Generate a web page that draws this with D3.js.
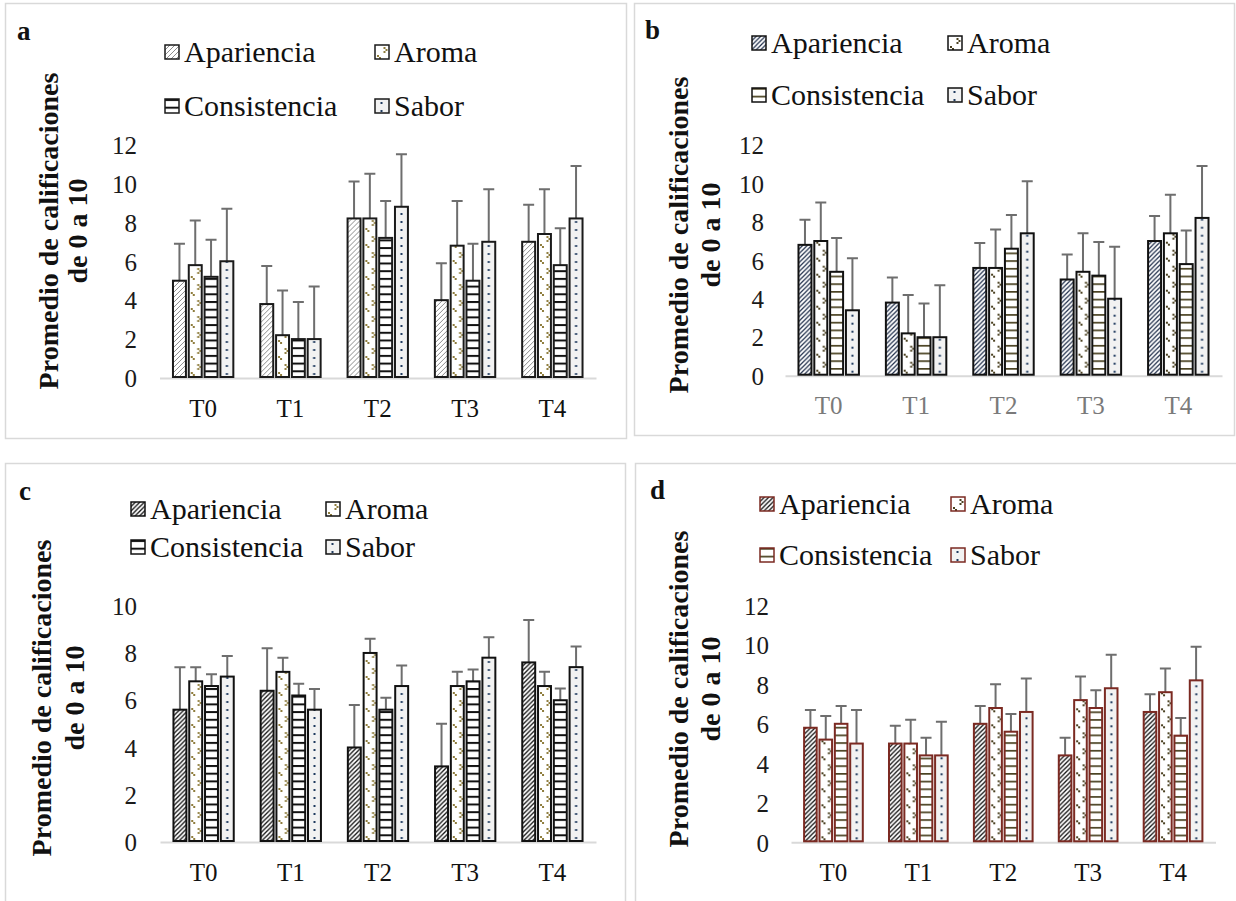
<!DOCTYPE html>
<html>
<head>
<meta charset="utf-8">
<script src="https://cdn.jsdelivr.net/npm/d3@7"></script>
<style>
  html, body { margin: 0; padding: 0; background: #fff; }
  svg { display: block; font-family: "Liberation Serif", "Times New Roman", serif; }
</style>
</head>
<body>
<svg id="chart" width="1236" height="901"></svg>
<script>
// ---------------- DATA ----------------
const categories = ["T0", "T1", "T2", "T3", "T4"];
const seriesNames = ["Apariencia", "Aroma", "Consistencia", "Sabor"];
const yTicks12 = [0, 2, 4, 6, 8, 10, 12];
const yTicks10 = [0, 2, 4, 6, 8, 10];
const yTitleLine1 = "Promedio de calificaciones";
const yTitleLine2 = "de 0 a 10";

// Panel a
const aApariencia   = [5.0, 3.8, 8.2, 4.0, 7.0];
const aAroma        = [5.8, 2.2, 8.2, 6.8, 7.4];
const aConsistencia = [5.2, 2.0, 7.2, 5.0, 5.8];
const aSabor        = [6.0, 2.0, 8.8, 7.0, 8.2];
const aErrApariencia   = [1.9, 1.95, 1.9, 1.9, 1.9];
const aErrAroma        = [2.3, 2.3, 2.3, 2.3, 2.3];
const aErrConsistencia = [1.9, 1.9, 1.9, 1.9, 1.9];
const aErrSabor        = [2.7, 2.7, 2.7, 2.7, 2.7];

// Panel b
const bApariencia   = [6.8, 3.8, 5.6, 5.0, 7.0];
const bAroma        = [7.0, 2.2, 5.6, 5.4, 7.4];
const bConsistencia = [5.4, 2.0, 6.6, 5.2, 5.8];
const bSabor        = [3.4, 2.0, 7.4, 4.0, 8.2];
const bErrApariencia   = [1.3, 1.3, 1.3, 1.3, 1.3];
const bErrAroma        = [2.0, 2.0, 2.0, 2.0, 2.0];
const bErrConsistencia = [1.75, 1.75, 1.75, 1.75, 1.75];
const bErrSabor        = [2.7, 2.7, 2.7, 2.7, 2.7];

// Panel c
const cApariencia   = [5.6, 6.4, 4.0, 3.2, 7.6];
const cAroma        = [6.8, 7.2, 8.0, 6.6, 6.6];
const cConsistencia = [6.6, 6.2, 5.6, 6.8, 6.0];
const cSabor        = [7.0, 5.6, 6.6, 7.8, 7.4];
const cErrApariencia   = [1.8, 1.8, 1.8, 1.8, 1.8];
const cErrAroma        = [0.6, 0.6, 0.6, 0.6, 0.6];
const cErrConsistencia = [0.5, 0.5, 0.5, 0.5, 0.5];
const cErrSabor        = [0.87, 0.87, 0.87, 0.87, 0.87];

// Panel d
const dApariencia   = [5.8, 5.0, 6.0, 4.4, 6.6];
const dAroma        = [5.2, 5.0, 6.8, 7.2, 7.6];
const dConsistencia = [6.0, 4.4, 5.6, 6.8, 5.4];
const dSabor        = [5.0, 4.4, 6.6, 7.8, 8.2];
const dErrApariencia   = [0.9, 0.9, 0.9, 0.9, 0.9];
const dErrAroma        = [1.2, 1.2, 1.2, 1.2, 1.2];
const dErrConsistencia = [0.9, 0.9, 0.9, 0.9, 0.9];
const dErrSabor        = [1.7, 1.7, 1.7, 1.7, 1.7];

// ---------------- LAYOUT / STYLE ----------------
const panels = [
  { id: "a", values: [aApariencia, aAroma, aConsistencia, aSabor],
    errs: [aErrApariencia, aErrAroma, aErrConsistencia, aErrSabor],
    ticks: yTicks12, box: [5, 3, 626, 438], letter: [17, 40],
    legendY: [52, 106], legendX: [165, 375],
    plotX: [159.5, 596], y0: 378, yTop: 144.5, tickRight: 137, catY: 417, catColor: "#111",
    title: { x1: 49, x2: 78, cy: 231 },
    sty: { stroke: "#1a1a1a", hatch: "#8c8c8c", hatchW: 1, hatchGap: 5, aroma: "#8e7c3c", cons: "#111", consW: 2, sabor: "#1f3a5f" } },
  { id: "b", values: [bApariencia, bAroma, bConsistencia, bSabor],
    errs: [bErrApariencia, bErrAroma, bErrConsistencia, bErrSabor],
    ticks: yTicks12, box: [634, 3, 1234, 435], letter: [645, 39],
    legendY: [43, 95], legendX: [752, 948],
    plotX: [785, 1222], y0: 375.7, yTop: 144.8, tickRight: 764, catY: 414, catColor: "#7a7a7a",
    title: { x1: 679, x2: 711, cy: 235 },
    sty: { stroke: "#111", hatch: "#1b2a47", hatchW: 1.2, hatchGap: 4.5, aroma: "#4a4020", cons: "#4a4222", consW: 1.7, sabor: "#1f3a5f" } },
  { id: "c", values: [cApariencia, cAroma, cConsistencia, cSabor],
    errs: [cErrApariencia, cErrAroma, cErrConsistencia, cErrSabor],
    ticks: yTicks10, box: [5, 463, 625, 910], letter: [19, 500],
    legendY: [509, 547], legendX: [131, 326],
    plotX: [160, 596], y0: 842, yTop: 605.7, tickRight: 137, catY: 881, catColor: "#111",
    title: { x1: 42, x2: 75, cy: 698 },
    sty: { stroke: "#111", hatch: "#111", hatchW: 1.3, hatchGap: 4.5, aroma: "#8e7c3c", cons: "#111", consW: 2, sabor: "#1f3a5f" } },
  { id: "d", values: [dApariencia, dAroma, dConsistencia, dSabor],
    errs: [dErrApariencia, dErrAroma, dErrConsistencia, dErrSabor],
    ticks: yTicks12, box: [635, 463, 1240, 910], letter: [650, 499],
    legendY: [504, 555], legendX: [760, 951],
    plotX: [791, 1215.5], y0: 842.3, yTop: 605.3, tickRight: 769, catY: 881, catColor: "#111",
    title: { x1: 679, x2: 711, cy: 689 },
    sty: { stroke: "#7b2a22", hatch: "#111", hatchW: 1.3, hatchGap: 4.5, aroma: "#4a4020", cons: "#4a4222", consW: 1.7, sabor: "#1f3a5f" } }
];

const svg = d3.select("#chart");
const defs = svg.append("defs");

// pattern builder; ox/oy anchor the pattern to the bar's origin
function makePattern(id, kind, sty, ox, oy) {
  if (kind === 0) { // Apariencia: diagonal hatch
    const g = sty.hatchGap;
    const p = defs.append("pattern").attr("id", id).attr("patternUnits", "userSpaceOnUse")
      .attr("x", ox).attr("y", oy).attr("width", g).attr("height", g);
    p.append("rect").attr("width", g).attr("height", g).attr("fill", "#fff");
    p.append("path").attr("d", `M0,${g} L${g},0 M${-g/2},${g/2} L${g/2},${-g/2} M${g/2},${g*1.5} L${g*1.5},${g/2}`)
      .attr("stroke", sty.hatch).attr("stroke-width", sty.hatchW);
  } else if (kind === 1) { // Aroma: sparse dots
    const p = defs.append("pattern").attr("id", id).attr("patternUnits", "userSpaceOnUse")
      .attr("x", ox).attr("y", oy).attr("width", 13).attr("height", 16);
    p.append("rect").attr("width", 13).attr("height", 16).attr("fill", "#fff");
    [[8.5, 2], [10.5, 4], [8.5, 6], [2, 10], [4, 12]].forEach(([x, y]) =>
      p.append("rect").attr("x", x).attr("y", y).attr("width", 2).attr("height", 2).attr("fill", sty.aroma));
  } else if (kind === 2) { // Consistencia: horizontal lines
    const p = defs.append("pattern").attr("id", id).attr("patternUnits", "userSpaceOnUse")
      .attr("x", ox).attr("y", oy).attr("width", 8).attr("height", 7.7);
    p.append("rect").attr("width", 8).attr("height", 7.7).attr("fill", "#fff");
    p.append("rect").attr("y", 0).attr("width", 8).attr("height", sty.consW).attr("fill", sty.cons);
  } else { // Sabor: light gray with small navy dots
    const p = defs.append("pattern").attr("id", id).attr("patternUnits", "userSpaceOnUse")
      .attr("x", ox).attr("y", oy).attr("width", 13).attr("height", 8);
    p.append("rect").attr("width", 13).attr("height", 8).attr("fill", "#f2f2f2");
    p.append("rect").attr("x", 5.5).attr("y", 3).attr("width", 2).attr("height", 2).attr("fill", sty.sabor);
  }
}

panels.forEach(P => {
  const g = svg.append("g");
  // border
  g.append("rect").attr("x", P.box[0] + 0.5).attr("y", P.box[1] + 0.5)
    .attr("width", P.box[2] - P.box[0]).attr("height", P.box[3] - P.box[1])
    .attr("fill", "none").attr("stroke", "#d9d9d9").attr("stroke-width", 1.5);

  // panel letter
  g.append("text").attr("x", P.letter[0]).attr("y", P.letter[1])
    .attr("font-size", 27).attr("font-weight", "bold").attr("fill", "#111").text(P.id);

  // scales
  const x0 = d3.scaleBand().domain(categories).range(P.plotX).padding(0);
  const groupW = x0.bandwidth() * 0.724;
  const x1 = d3.scaleBand().domain(seriesNames).range([0, groupW]).paddingInner(0.18).paddingOuter(0.09);
  const groupOff = (x0.bandwidth() - groupW) / 2;
  const yMax = P.ticks[P.ticks.length - 1];
  const y = d3.scaleLinear().domain([0, yMax]).range([P.y0, P.yTop]);

  // y axis labels
  const yAxis = d3.axisLeft(y).tickValues(P.ticks).tickSize(0).tickPadding(0);
  const ya = g.append("g").attr("transform", `translate(${P.tickRight},0)`).call(yAxis);
  ya.select(".domain").remove();
  ya.selectAll("text").attr("font-size", 25).attr("fill", "#1a1a1a")
    .attr("font-family", "Liberation Serif, serif").attr("dy", "0.35em");

  // x axis
  const xAxis = d3.axisBottom(x0).tickSize(0).tickPadding(0);
  const xa = g.append("g").attr("transform", `translate(0,${P.y0})`).call(xAxis);
  xa.select(".domain").attr("stroke", "#d9d9d9").attr("stroke-width", 2);
  xa.selectAll("text").attr("font-size", 25).attr("fill", P.catColor)
    .attr("font-family", "Liberation Serif, serif").attr("y", P.catY - P.y0).attr("dy", 0);

  // bars
  const bars = [];
  seriesNames.forEach((s, si) => {
    categories.forEach((c, ci) => {
      bars.push({ s, si, c, ci, v: P.values[si][ci], e: P.errs[si][ci] });
    });
  });
  bars.forEach(b => {
    b.x = x0(b.c) + groupOff + x1(b.s);
    b.w = x1.bandwidth();
    b.pid = `pat-${P.id}-${b.si}-${b.ci}`;
    makePattern(b.pid, b.si, P.sty, b.x, P.y0);
  });

  // error bars (drawn beneath bars)
  const eg = g.append("g").attr("stroke", "#6e6e6e").attr("stroke-width", 2).attr("fill", "none");
  eg.selectAll("path").data(bars).join("path")
    .attr("d", b => {
      const cx = b.x + b.w / 2, top = y(b.v + b.e), base = y(b.v);
      return `M${cx},${base} V${top} M${cx - 5.5},${top} H${cx + 5.5}`;
    });

  g.append("g").selectAll("rect").data(bars).join("rect")
    .attr("x", b => b.x).attr("y", b => y(b.v))
    .attr("width", b => b.w).attr("height", b => y(0) - y(b.v) - 1)
    .attr("fill", b => `url(#${b.pid})`)
    .attr("stroke", P.sty.stroke).attr("stroke-width", 2);

  // legend
  seriesNames.forEach((s, si) => {
    const row = Math.floor(si / 2), col = si % 2;
    const lx = P.legendX[col], ly = P.legendY[row];
    const pid = `leg-${P.id}-${si}`;
    makePattern(pid, si, P.sty, lx, ly - 7);
    g.append("rect").attr("x", lx).attr("y", ly - 7).attr("width", 14).attr("height", 14)
      .attr("fill", `url(#${pid})`).attr("stroke", P.sty.stroke).attr("stroke-width", 1.5);
    g.append("text").attr("x", lx + 19).attr("y", ly + 10)
      .attr("font-size", 30).attr("fill", "#111").text(s);
  });

  // y-axis title (two lines, rotated)
  [[yTitleLine1, P.title.x1], [yTitleLine2, P.title.x2]].forEach(([t, tx]) => {
    g.append("text")
      .attr("transform", `translate(${tx + 9},${P.title.cy}) rotate(-90)`)
      .attr("text-anchor", "middle").attr("font-size", 28).attr("font-weight", "bold")
      .attr("fill", "#111").text(t);
  });
});
</script>
</body>
</html>
